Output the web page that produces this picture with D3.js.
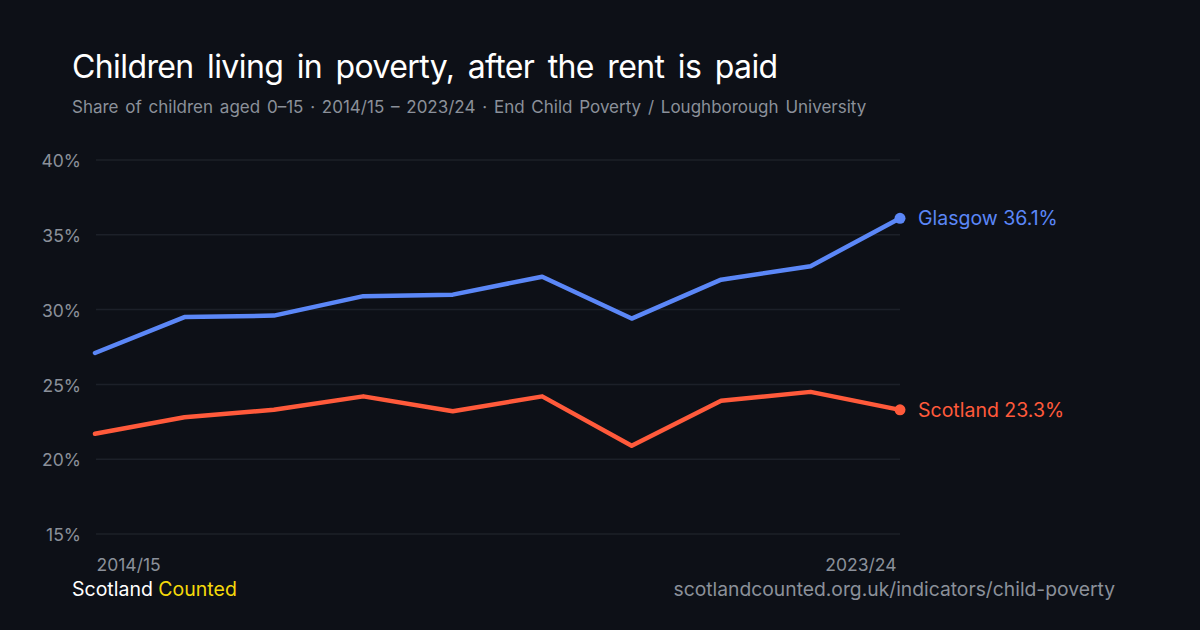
<!DOCTYPE html>
<html>
<head>
<meta charset="utf-8">
<script src="https://cdn.jsdelivr.net/npm/d3@7"></script>
<style>
  html, body { margin: 0; padding: 0; background: #0d1017; }
  svg { display: block; font-family: Inter, "Noto Sans", sans-serif; }
</style>
</head>
<body>
<div id="chart"></div>
<script>
"use strict";

// Data
var years = ["2014/15", "2015/16", "2016/17", "2017/18", "2018/19",
             "2019/20", "2020/21", "2021/22", "2022/23", "2023/24"];
var glasgow = [27.1, 29.5, 29.6, 30.9, 31.0, 32.2, 29.4, 32.0, 32.9, 36.1];
var scotland = [21.7, 22.8, 23.3, 24.2, 23.2, 24.2, 20.9, 23.9, 24.5, 23.3];
var yTicks = [15, 20, 25, 30, 35, 40];

var series = [
  { name: "Glasgow", values: glasgow, color: "#5b87f7" },
  { name: "Scotland", values: scotland, color: "#ff5a3b" }
];

var W = 1200, H = 630;
var margin = { top: 160, right: 300, bottom: 96, left: 96 };

var svg = d3.select("#chart").append("svg")
  .attr("width", W).attr("height", H);

svg.append("rect").attr("width", W).attr("height", H).attr("fill", "#0d1017");

// Title + subtitle
svg.append("text")
  .attr("x", 72).attr("y", 78)
  .attr("fill", "#ffffff")
  .style("font-size", "32px")
  .style("letter-spacing", "-0.6px")
  .style("word-spacing", "5px")
  .text("Children living in poverty, after the rent is paid");

svg.append("text")
  .attr("x", 72).attr("y", 113)
  .attr("fill", "#8b909a")
  .style("font-size", "17px")
  .style("word-spacing", "2px")
  .text("Share of children aged 0\u201315 \u00b7 2014/15 \u2013 2023/24 \u00b7 End Child Poverty /  Loughborough  University");

// Scales
var x = d3.scalePoint()
  .domain(years)
  .range([margin.left - 1, W - margin.right]);

var y = d3.scaleLinear()
  .domain([15, 40])
  .range([H - margin.bottom, margin.top]);

// Gridlines
svg.append("g").selectAll("line")
  .data(yTicks)
  .enter().append("line")
  .attr("x1", margin.left).attr("x2", W - margin.right)
  .attr("y1", function(d) { return y(d); })
  .attr("y2", function(d) { return y(d); })
  .attr("stroke", "#1c2029")
  .attr("stroke-width", 1.5);

// Y axis labels
var yAxis = d3.axisLeft(y)
  .tickValues(yTicks)
  .tickSize(0)
  .tickPadding(0)
  .tickFormat(function(d) { return d + "%"; });

var yg = svg.append("g")
  .attr("transform", "translate(81,0)")
  .call(yAxis);
yg.select(".domain").remove();
yg.selectAll("text")
  .attr("fill", "#8b909a")
  .attr("dy", "0.38em")
  .style("font-size", "17.5px")
  .style("font-family", "Inter, sans-serif");

// X axis: first and last labels only
var xAxis = d3.axisBottom(x)
  .tickValues([years[0], years[years.length - 1]])
  .tickSize(0)
  .tickPadding(0);

var xg = svg.append("g")
  .attr("transform", "translate(0,571)")
  .call(xAxis);
xg.select(".domain").remove();
xg.selectAll("text")
  .attr("fill", "#8b909a")
  .attr("y", 0)
  .attr("dy", "0")
  .style("font-size", "17.5px")
  .style("font-family", "Inter, sans-serif")
  .attr("text-anchor", function(d, i) { return i === 0 ? "start" : "end"; })
  .attr("dx", function(d, i) { return i === 0 ? 1 : -4; });

// Lines
var line = d3.line()
  .x(function(d, i) { return x(years[i]); })
  .y(function(d) { return y(d); });

series.forEach(function(s) {
  svg.append("path")
    .datum(s.values)
    .attr("d", line)
    .attr("fill", "none")
    .attr("stroke", s.color)
    .attr("stroke-width", 4.5)
    .attr("stroke-linejoin", "round")
    .attr("stroke-linecap", "round");

  var last = s.values[s.values.length - 1];
  var lx = x(years[years.length - 1]);

  svg.append("circle")
    .attr("cx", lx).attr("cy", y(last))
    .attr("r", 5.5)
    .attr("fill", s.color);

  svg.append("text")
    .attr("x", lx + 18).attr("y", y(last))
    .attr("dy", "0.36em")
    .attr("fill", s.color)
    .style("font-size", "19.5px")
    .text(s.name + " " + last.toFixed(1) + "%");
});

// Footer
var brand = svg.append("text")
  .attr("x", 72).attr("y", 596)
  .style("font-size", "19.5px");
brand.append("tspan").attr("fill", "#ffffff").text("Scotland ");
brand.append("tspan").attr("fill", "#f5d90a").text("Counted");

svg.append("text")
  .attr("x", 1115).attr("y", 596)
  .attr("text-anchor", "end")
  .attr("fill", "#8b909a")
  .style("font-size", "19.3px")
  .text("scotlandcounted.org.uk/indicators/child-poverty");
</script>
</body>
</html>
